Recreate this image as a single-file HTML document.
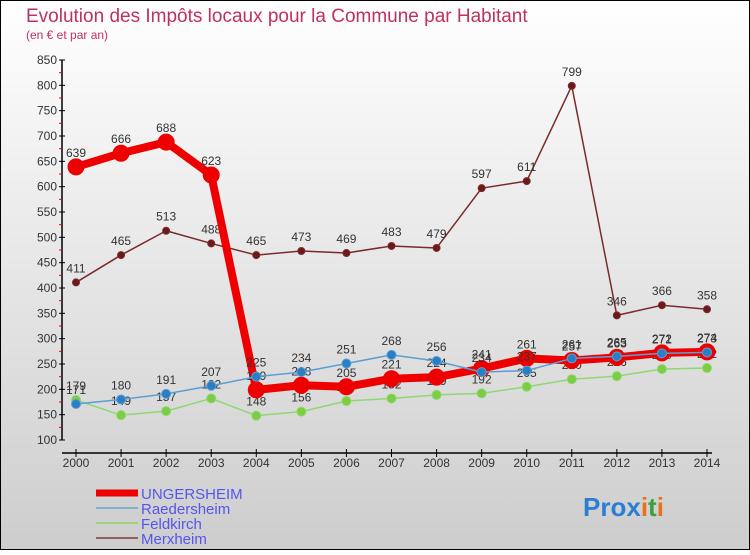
<!DOCTYPE html>
<html><head><meta charset="utf-8"><style>
body{margin:0;width:750px;height:550px;overflow:hidden;font-family:"Liberation Sans",sans-serif}
svg text{font-family:"Liberation Sans",sans-serif}
</style></head><body>
<svg id="c" width="750" height="550">
<defs><linearGradient id="bg" x1="0" y1="0" x2="0" y2="1"><stop offset="0" stop-color="#ffffff"/><stop offset="1" stop-color="#cdcdcd"/></linearGradient></defs>
<rect x="0" y="0" width="750" height="550" fill="url(#bg)" stroke="#000" stroke-width="2"/>
<text x="26" y="22" font-size="19" fill="#c0305a">Evolution des Impôts locaux pour la Commune par Habitant</text>
<text x="26" y="39" font-size="12" fill="#c0305a">(en € et par an)</text>
<g id="axes"></g><g id="series"></g><g id="legend"></g>
<text x="583" y="516" font-size="26" font-weight="bold"><tspan fill="#2a7fd4">Pro</tspan><tspan fill="#2a7fd4">x</tspan><tspan fill="#e8701a">i</tspan><tspan fill="#3aa040">t</tspan><tspan fill="#e8701a">i</tspan></text>
</svg>
<script>
const years=[2000,2001,2002,2003,2004,2005,2006,2007,2008,2009,2010,2011,2012,2013,2014];
const yTicks=[100,150,200,250,300,350,400,450,500,550,600,650,700,750,800,850];
const ungersheim=[639,666,688,623,199,208,205,221,224,241,261,257,263,272,274];
const raedersheim=[171,180,191,207,225,234,251,268,256,234,237,261,265,271,273];
const feldkirch=[179,149,157,182,148,156,177,182,189,192,205,220,226,240,242];
const merxheim=[411,465,513,488,465,473,469,483,479,597,611,799,346,366,358];
const NS="http://www.w3.org/2000/svg";
const X=i=>76+i*(707-76)/(years.length-1);
const Y=v=>440-(v-100)*(380/750);
function mk(t,a,p){const e=document.createElementNS(NS,t);for(const k in a)e.setAttribute(k,a[k]);p.appendChild(e);return e;}
const ax=document.getElementById('axes');
let l=mk('line',{x1:62,y1:Y(850),x2:62,y2:440,stroke:'#000','stroke-width':1.5},ax);


l=mk('line',{x1:62,y1:453,x2:712,y2:453,stroke:'#000','stroke-width':1.5},ax);


yTicks.forEach((v,i)=>{
 mk('line',{x1:59,y1:Y(v),x2:65,y2:Y(v),stroke:'#000'},ax);
 if(i<yTicks.length-1) mk('line',{x1:59,y1:Y(v+25),x2:62,y2:Y(v+25),stroke:'#e00'},ax);
 const t=mk('text',{x:57,y:Y(v)+4,'font-size':12,'text-anchor':'end',fill:'#333'},ax);
 t.textContent=v;
 
 
});
years.forEach((y,i)=>{
 mk('line',{x1:X(i),y1:449,x2:X(i),y2:457,stroke:'#000'},ax);
 const t=mk('text',{x:X(i),y:467,'font-size':12,'text-anchor':'middle',fill:'#333'},ax);
 t.textContent=y;
 
 
});
const sg=document.getElementById('series');
function series(name,data,color,dot,w,r){
 const g=mk('g',{},sg);
 
 
 mk('polyline',{points:data.map((v,i)=>X(i)+','+Y(v)).join(' '),fill:'none',stroke:color,'stroke-width':w,'stroke-linejoin':'round'},g);
 data.forEach((v,i)=>{
  const c=mk('circle',{cx:X(i),cy:Y(v),r:r,fill:dot,stroke:color,'stroke-width':1},g);
  
  
  const t=mk('text',{x:X(i),y:Y(v)-10,'font-size':12,'text-anchor':'middle',fill:'#333'},g);
  t.textContent=v;
  
  
 });
}
series('merxheim',merxheim,'#7a2a2a','#6a1a1a',1.5,3.5);
series('feldkirch',feldkirch,'#8fd870','#7ccc44',1.5,4.5);
series('raedersheim',raedersheim,'#5a9fd4','#2a7fc4',1.5,4.5);
series('ungersheim',ungersheim,'#ee0000','#ee0000',8,8);
sg.insertBefore(sg.lastChild,sg.children[2]);
const lg=document.getElementById('legend');
[['UNGERSHEIM','#ee0000',7],['Raedersheim','#7fb0d0',2],['Feldkirch','#9ed080',2],['Merxheim','#906060',2]].forEach((d,i)=>{
 const g=mk('g',{},lg);
 
 
 mk('line',{x1:96,y1:493+i*15,x2:138,y2:493+i*15,stroke:d[1],'stroke-width':d[2]},g);
 const t=mk('text',{x:141,y:499+i*15,'font-size':15,fill:'#5555ee'},g);
 t.textContent=d[0];
});
</script>
</body></html>
